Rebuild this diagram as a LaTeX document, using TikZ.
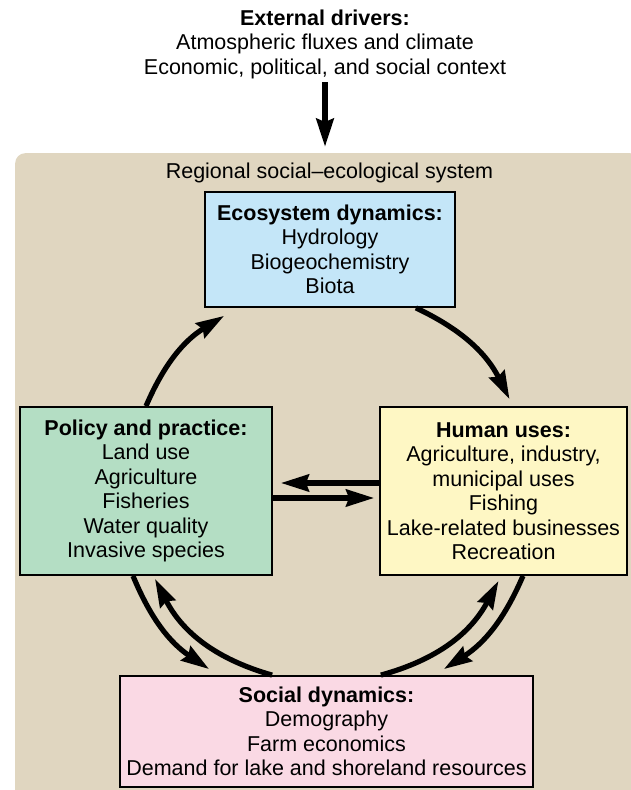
\documentclass[tikz,border=0pt]{standalone}
\usepackage{fontspec}
\setmainfont{Liberation Sans}
\usetikzlibrary{arrows.meta, positioning, calc}
\definecolor{panelbg}{RGB}{224,214,192}
\definecolor{ecoblue}{RGB}{196,230,248}
\definecolor{policygreen}{RGB}{180,222,196}
\definecolor{humanyellow}{RGB}{254,247,196}
\definecolor{socialpink}{RGB}{250,217,228}
\tikzset{
  sysbox/.style={rectangle, fill=panelbg, rounded corners=10pt, inner sep=0pt},
  ecbox/.style={rectangle, draw=black, fill=ecoblue, line width=1.8pt,
                align=center, inner sep=4pt},
  plbox/.style={rectangle, draw=black, fill=policygreen, line width=1.8pt,
                align=center, inner sep=4pt},
  hubox/.style={rectangle, draw=black, fill=humanyellow, line width=1.8pt,
                align=center, inner sep=4pt},
  sobox/.style={rectangle, draw=black, fill=socialpink, line width=1.8pt,
                align=center, inner sep=4pt},
  flow/.style={-{Stealth[length=28pt,width=17pt,inset=3pt]}, line width=5.2pt}
}
\begin{document}
\begin{tikzpicture}[x=1pt, y=1pt, every node/.style={font=\fontsize{21.5}{24.5}\selectfont}]
    \useasboundingbox (0,0) rectangle (630,790);
    \node[align=center] (ext) at (325,746)
          {\textbf{External drivers:}\\Atmospheric fluxes and climate\\
           Economic, political, and social context};
    \node[sysbox, minimum width=625pt, minimum height=660pt, anchor=north west]
          (sys) at (15,637) {};
    \node (systitle) at (329.5,617) {Regional social–ecological system};
    \node[ecbox, minimum width=250pt, minimum height=115pt] (eco) at (330,540.5)
          {\textbf{Ecosystem dynamics:}\\Hydrology\\Biogeochemistry\\Biota};
    \node[plbox, minimum width=252pt, minimum height=168pt] (pol) at (146,299)
          {\textbf{Policy and practice:}\\Land use\\Agriculture\\Fisheries\\
           Water quality\\Invasive species};
    \node[hubox, minimum width=247pt, minimum height=168pt] (hum) at (503.5,299)
          {\textbf{Human uses:}\\Agriculture, industry,\\municipal uses\\Fishing\\
           Lake-related businesses\\Recreation};
    \node[sobox, minimum width=413pt, minimum height=111pt] (soc) at (326.5,58.5)
          {\textbf{Social dynamics:}\\Demography\\Farm economics\\
           Demand for lake and shoreland resources};
    \draw[flow, line width=6pt, shorten >=6pt] (ext.south) -- (ext.south |- sys.north);
    % round the cycle
    \draw[flow] (pol.north) to[bend left=17.6] ([shift={(20pt,-8pt)}]eco.south west);
    \draw[flow] ([xshift=-40pt]eco.south east) to[bend left=19] ([shift={(6pt,7pt)}]hum.north);
    \draw[flow] ([yshift=8pt]hum.west) -- ([shift={(8pt,8pt)}]pol.east);
    \draw[flow] ([yshift=-7pt]pol.east) -- ([shift={(-5pt,-7pt)}]hum.west);
    \draw[flow] ([xshift=-13pt]pol.south) to[bend right=16.8] ([shift={(90pt,6pt)}]soc.north west);
    \draw[flow] ([xshift=153pt]soc.north west) to[bend left=23.5] ([shift={(9pt,-3pt)}]pol.south);
    \draw[flow] ([xshift=-153pt]soc.north east) to[bend right=23.3] ([shift={(-5pt,-5pt)}]hum.south);
    \draw[flow] ([xshift=19.5pt]hum.south) to[bend left=17] ([shift={(-90pt,6pt)}]soc.north east);
  \end{tikzpicture}
\end{document}
